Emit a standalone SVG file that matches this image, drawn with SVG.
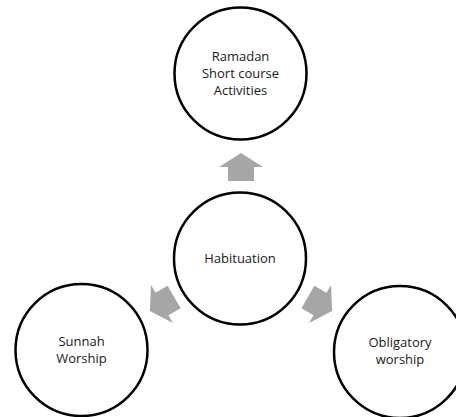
<svg xmlns="http://www.w3.org/2000/svg" width="456" height="417" viewBox="0 0 456 417">
<defs>
<style>
.node circle{fill:#fff;stroke:#000;stroke-width:2.5}
.node text{font-family:"Open Sans","Liberation Sans",sans-serif;font-size:13px;fill:#1a1a1a;text-anchor:middle}
.arr{fill:#a6a6a6;stroke:none}
</style>
<polygon id="arrowShape" class="arr" points="-14,-13 0,-13 0,-22 14,0 0,22 0,13 -14,13"/>
</defs>
<rect width="456" height="417" fill="#fff"/>
<g id="connectors">
<use href="#arrowShape" transform="translate(241,167) rotate(-90)"/>
<use href="#arrowShape" transform="translate(162,304) rotate(150)"/>
<use href="#arrowShape" transform="translate(320,304) rotate(30)"/>
</g>
<g id="node-ramadan" class="node">
<circle cx="240.5" cy="73.5" r="66"/>
<text x="240.5" y="61">Ramadan</text>
<text x="240.5" y="78">Short course</text>
<text x="240.5" y="95">Activities</text>
</g>
<g id="node-habituation" class="node">
<circle cx="240" cy="258.5" r="66"/>
<text x="240" y="263">Habituation</text>
</g>
<g id="node-sunnah" class="node">
<circle cx="81.5" cy="350" r="66"/>
<text x="81.5" y="346">Sunnah</text>
<text x="81.5" y="363">Worship</text>
</g>
<g id="node-obligatory" class="node">
<circle cx="400" cy="352" r="66"/>
<text x="400" y="347">Obligatory</text>
<text x="400" y="364">worship</text>
</g>
</svg>
